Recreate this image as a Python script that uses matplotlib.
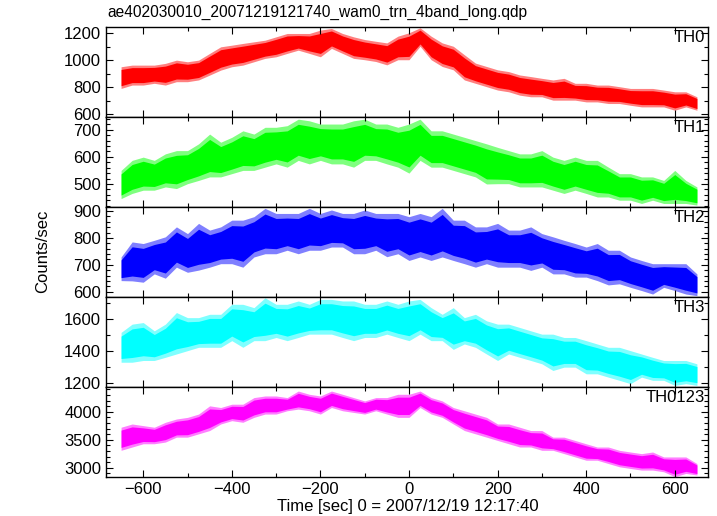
import numpy as np
import matplotlib
matplotlib.use("Agg")
import matplotlib.pyplot as plt
from matplotlib.ticker import MultipleLocator

plt.rcParams['font.family'] = ['Liberation Sans', 'DejaVu Sans']
plt.rcParams['font.size'] = 12

# time grid of the read-off samples (sec from 2007/12/19 12:17:40)
time = list(range(-650, 651, 25))

# lower / upper envelope of each light curve, read at every 25 s
th0_lo = [792, 817, 817, 830, 817, 842, 842, 855, 891, 928, 953, 965, 990, 1015, 1027, 1052, 1076, 1052,
          1027, 1089, 1052, 1015, 1005, 992, 967, 1005, 1005, 1105, 1005, 955, 930, 855, 830, 805, 780, 767,
          742, 730, 730, 705, 705, 705, 692, 692, 680, 680, 667, 655, 655, 655, 630, 655, 630]
th0_hi = [953, 965, 965, 965, 978, 1002, 990, 1002, 1052, 1101, 1113, 1126, 1138, 1150, 1175, 1200, 1200, 1200,
          1225, 1237, 1200, 1175, 1155, 1142, 1130, 1180, 1205, 1242, 1180, 1130, 1105, 1042, 980, 955, 930, 917,
          892, 880, 867, 855, 867, 830, 830, 817, 817, 805, 792, 792, 792, 780, 767, 767, 730]

th1_lo = [446, 465, 477, 477, 489, 483, 501, 513, 526, 526, 538, 550, 550, 562, 574, 562, 587, 574,
          587, 574, 574, 562, 587, 587, 574, 562, 540, 587, 562, 562, 550, 538, 526, 500, 501, 501,
          489, 489, 489, 477, 465, 477, 465, 452, 452, 440, 440, 428, 440, 428, 428, 428, 422]
th1_hi = [550, 587, 599, 587, 611, 623, 623, 648, 684, 654, 672, 696, 684, 709, 709, 715, 739, 733,
          721, 721, 721, 733, 739, 721, 721, 709, 721, 739, 696, 696, 684, 672, 660, 648, 635, 623,
          611, 611, 623, 599, 587, 599, 587, 587, 562, 538, 538, 526, 526, 513, 550, 513, 489]

th2_lo = [641, 640, 635, 666, 650, 691, 672, 680, 691, 704, 704, 691, 729, 741, 741, 754, 741, 754,
          754, 766, 766, 741, 741, 754, 730, 741, 716, 729, 716, 729, 716, 704, 691, 704, 691, 691,
          691, 679, 691, 666, 666, 654, 654, 641, 625, 629, 616, 604, 591, 616, 604, 591, 585]
th2_hi = [729, 785, 779, 791, 804, 841, 816, 854, 829, 841, 866, 866, 879, 910, 891, 891, 891, 910,
          891, 904, 891, 891, 904, 891, 891, 891, 879, 891, 879, 910, 866, 866, 841, 841, 854, 829,
          829, 841, 816, 804, 791, 779, 766, 779, 754, 754, 729, 716, 704, 704, 704, 704, 666]

th3_lo = [1329, 1329, 1340, 1340, 1360, 1381, 1402, 1423, 1423, 1423, 1465, 1423, 1465, 1465, 1485, 1465, 1485, 1506,
          1506, 1506, 1485, 1465, 1485, 1485, 1506, 1485, 1465, 1506, 1465, 1465, 1410, 1444, 1423, 1381, 1340, 1381,
          1360, 1340, 1319, 1277, 1298, 1298, 1256, 1256, 1235, 1215, 1194, 1235, 1215, 1215, 1183, 1194, 1183]
th3_hi = [1517, 1569, 1579, 1527, 1569, 1642, 1610, 1610, 1631, 1631, 1694, 1694, 1673, 1735, 1694, 1694, 1715, 1694,
          1725, 1725, 1715, 1715, 1694, 1694, 1715, 1694, 1715, 1725, 1673, 1631, 1673, 1610, 1631, 1590, 1569, 1569,
          1548, 1527, 1506, 1506, 1485, 1485, 1465, 1444, 1423, 1423, 1402, 1381, 1360, 1340, 1340, 1340, 1319]

th0123_lo = [3312, 3371, 3429, 3429, 3459, 3547, 3547, 3606, 3665, 3782, 3841, 3812, 3900, 3959, 3959, 4018, 4047, 4018,
             3959, 4076, 4018, 3988, 3959, 4018, 3959, 3900, 3900, 4076, 3959, 3900, 3782, 3665, 3606, 3547, 3488, 3429,
             3371, 3371, 3312, 3312, 3253, 3194, 3135, 3135, 3076, 3018, 2988, 2959, 2959, 2929, 2841, 2900, 2871]
th0123_hi = [3724, 3782, 3753, 3724, 3812, 3871, 3900, 3959, 4106, 4076, 4135, 4135, 4253, 4282, 4282, 4253, 4370, 4312,
             4282, 4370, 4312, 4253, 4194, 4253, 4253, 4312, 4312, 4370, 4253, 4194, 4076, 4018, 3959, 3900, 3782, 3782,
             3724, 3665, 3665, 3547, 3547, 3488, 3429, 3371, 3371, 3312, 3282, 3253, 3282, 3194, 3194, 3194, 3076]

labels = ["TH0", "TH1", "TH2", "TH3", "TH0123"]
lows = [th0_lo, th1_lo, th2_lo, th3_lo, th0123_lo]
highs = [th0_hi, th1_hi, th2_hi, th3_hi, th0123_hi]
colors = ["#ff0000", "#00ff00", "#0000ff", "#00ffff", "#ff00ff"]
ylims = [(580, 1248), (415, 747), (580, 915), (1173, 1740), (2836, 4442)]
ticks = [(200, 100), (100, 20), (100, 20), (200, 100), (500, 100)]

fig = plt.figure(figsize=(7.17, 5.16), dpi=100)
W, H = 717, 516
left, right = 106, 708
top, ph = 27, 90

t = np.array(time)
axes = []
for i in range(5):
    y0 = top + i * ph
    ax = fig.add_axes([left / W, 1 - (y0 + ph) / H, (right - left) / W, ph / H],
                      sharex=axes[0] if axes else None)
    lo = np.array(lows[i], dtype=float)
    hi = np.array(highs[i], dtype=float)
    mid = (lo + hi) / 2
    half = (hi - lo) / 2
    # light outer halo (error bars) and solid core
    ax.fill_between(t, lo, hi, color=colors[i], alpha=0.5, lw=0)
    ax.fill_between(t, mid - 0.75 * half, mid + 0.75 * half, color=colors[i], lw=0)
    ax.set_ylim(*ylims[i])
    ax.set_xlim(-684, 675)
    ax.yaxis.set_major_locator(MultipleLocator(ticks[i][0]))
    ax.yaxis.set_minor_locator(MultipleLocator(ticks[i][1]))
    ax.xaxis.set_major_locator(MultipleLocator(200))
    ax.xaxis.set_minor_locator(MultipleLocator(100))
    ax.tick_params(which="both", direction="in", top=True, right=True, width=0.8)
    ax.tick_params(which="major", length=5)
    ax.tick_params(which="minor", length=3)
    for s in ax.spines.values():
        s.set_linewidth(1.0)
    ax.text(0.995, 0.97, labels[i], transform=ax.transAxes, ha="right", va="top", fontsize=12)
    if i < 4:
        ax.tick_params(labelbottom=False)
    axes.append(ax)

fig.text(107 / W, 1 - 12 / H, "ae402030010_20071219121740_wam0_trn_4band_long.qdp",
         ha="left", va="center", fontsize=11.2)
fig.text(43 / W, 1 - 251 / H, "Counts/sec", rotation=90, ha="center", va="center", fontsize=12)
fig.text(408 / W, 1 - 506 / H, "Time [sec] 0 = 2007/12/19 12:17:40", ha="center", va="center", fontsize=12)

fig.savefig("out.png", dpi=100)
